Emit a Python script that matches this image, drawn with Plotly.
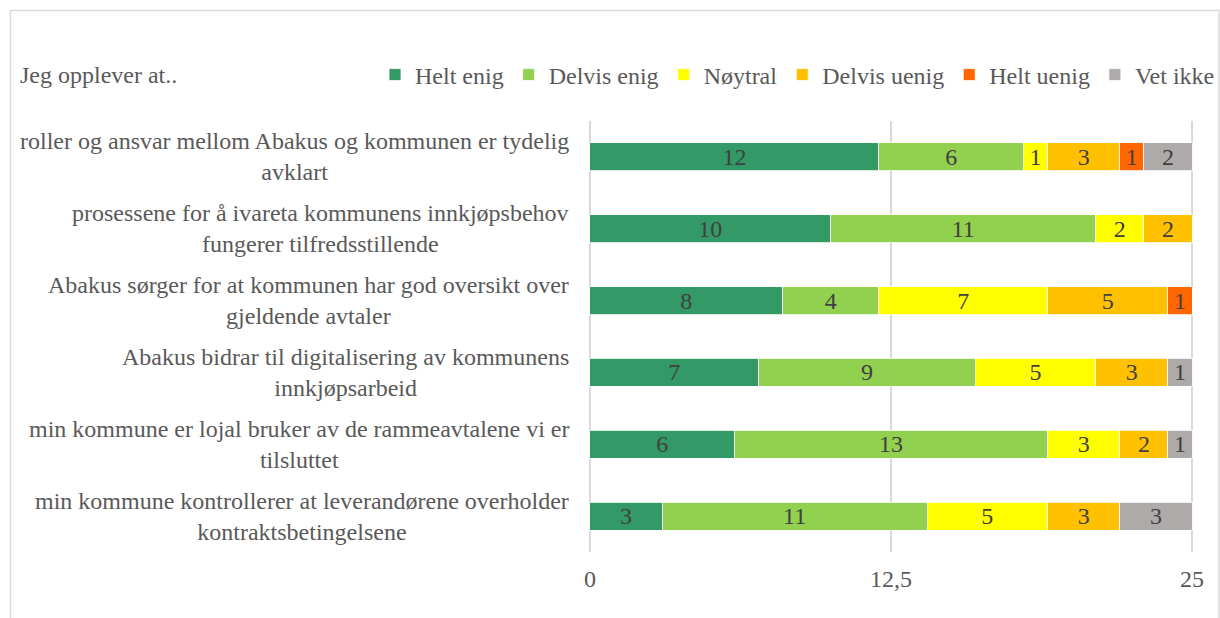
import plotly.graph_objects as go

categories = [
    "roller og ansvar mellom Abakus og kommunen er tydelig<br>avklart",
    "prosessene for å ivareta kommunens innkjøpsbehov<br>fungerer tilfredsstillende",
    "Abakus sørger for at kommunen har god oversikt over<br>gjeldende avtaler",
    "Abakus bidrar til digitalisering av kommunens<br>innkjøpsarbeid",
    "min kommune er lojal bruker av de rammeavtalene vi er<br>tilsluttet",
    "min kommune kontrollerer at leverandørene overholder<br>kontraktsbetingelsene",
]
series_names = ["Helt enig", "Delvis enig", "Nøytral", "Delvis uenig", "Helt uenig", "Vet ikke"]
helt_enig = [12, 10, 8, 7, 6, 3]
delvis_enig = [6, 11, 4, 9, 13, 11]
noytral = [1, 2, 7, 5, 3, 5]
delvis_uenig = [3, 2, 5, 3, 2, 3]
helt_uenig = [1, 0, 1, 0, 0, 0]
vet_ikke = [2, 0, 0, 1, 1, 3]
series_values = [helt_enig, delvis_enig, noytral, delvis_uenig, helt_uenig, vet_ikke]
colors = ["#339966", "#92D050", "#FFFF00", "#FFC000", "#FF6600", "#AEAAAA"]
tick_vals = [0, 12.5, 25]
tick_text = ["0", "12,5", "25"]

FONT = "Liberation Serif, Times New Roman, serif"
W, H = 1220, 618
L, R, T, B = 588, 26, 121, 66
pw, ph = W - L - R, H - T - B

def px_to_paper_x(px):
    return (px - L) / pw

def px_to_paper_y(py):
    return (H - B - py) / ph

fig = go.Figure()
for name, vals, col in zip(series_names, series_values, colors):
    fig.add_trace(go.Bar(
        y=categories, x=vals, name=name, orientation="h",
        marker=dict(color=col, line=dict(color="white", width=0.8)),
        text=[str(v) if v else "" for v in vals],
        textposition="inside", insidetextanchor="middle", textangle=0,
        textfont=dict(family=FONT, size=24, color="#404040"),
        constraintext="none",
        hoverinfo="x+name",
    ))

annotations = []
for c in categories:
    annotations.append(dict(
        x=px_to_paper_x(571), xref="paper", y=c, yref="y",
        text=c, showarrow=False, xanchor="right", yanchor="middle",
        align="center", font=dict(family=FONT, size=24, color="#595959"),
    ))

fig.update_layout(
    width=W, height=H,
    margin=dict(l=L, r=R, t=T, b=B),
    barmode="stack", bargap=0.61,
    plot_bgcolor="white", paper_bgcolor="white",
    font=dict(family=FONT, size=24, color="#595959"),
    title=dict(text="Jeg opplever at..", x=20 / W, xanchor="left",
               y=1 - 75 / H, yanchor="middle",
               font=dict(family=FONT, size=24, color="#595959")),
    legend=dict(orientation="h", x=px_to_paper_x(378), xanchor="left",
                y=px_to_paper_y(75), yanchor="middle",
                font=dict(family=FONT, size=24, color="#595959"),
                traceorder="normal", itemwidth=30, bgcolor="rgba(0,0,0,0)"),
    xaxis=dict(range=[-0.08, 25.08], tickvals=tick_vals, ticktext=tick_text,
               showgrid=True, gridcolor="#D9D9D9", gridwidth=1.5,
               zeroline=False, showline=False, ticks="", ticklabelstandoff=10,
               tickfont=dict(family=FONT, size=24, color="#595959")),
    yaxis=dict(autorange="reversed", showticklabels=False, showgrid=False,
               zeroline=False, showline=False, ticks=""),
    annotations=annotations,
    shapes=[dict(type="rect", xref="paper", yref="paper",
                 x0=px_to_paper_x(10.5), x1=px_to_paper_x(1219),
                 y0=px_to_paper_y(630), y1=px_to_paper_y(10.5),
                 line=dict(color="#D9D9D9", width=1.5), fillcolor="rgba(0,0,0,0)",
                 layer="below")],
)

fig.write_html("out.html", config={"displayModeBar": False},
               post_script="document.body.style.margin='0';document.body.style.overflow='hidden';")
